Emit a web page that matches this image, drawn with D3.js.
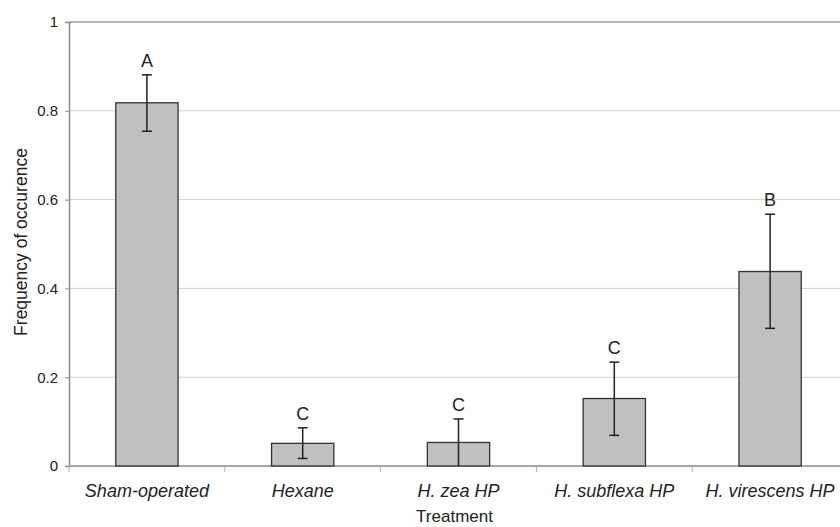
<!DOCTYPE html>
<html>
<head>
<meta charset="utf-8">
<script src="https://cdn.jsdelivr.net/npm/d3@7"></script>
<style>
  body { margin: 0; background: #fff; }
  svg { display: block; font-family: "Liberation Sans", Arial, sans-serif; }
</style>
</head>
<body>
<div class="chart"></div>
<script>
const treatments = ['Sham-operated', 'Hexane', 'H. zea HP', 'H. subflexa HP', 'H. virescens HP'];
const frequency = [0.818, 0.051, 0.053, 0.152, 0.438];
const errUpper = [0.881, 0.086, 0.106, 0.234, 0.567];
const errLower = [0.754, 0.017, 0, 0.069, 0.310];
const letters = ['A', 'C', 'C', 'C', 'B'];
const yTicks = [0, 0.2, 0.4, 0.6, 0.8, 1];

const outerWidth = 840;
const outerHeight = 527;
const margin = {top: 22, left: 69, bottom: 61};
const plotRight = 848; // plot runs a little past the picture edge
const height = outerHeight - margin.top - margin.bottom;

const svg = d3.select('.chart').append('svg')
    .attr('width', outerWidth)
    .attr('height', outerHeight);

// Scales
const x = d3.scaleBand().domain(treatments).range([margin.left, plotRight]).padding(0);
const y = d3.scaleLinear().domain([0, 1]).range([margin.top + height, margin.top]);
const barW = x.bandwidth() * 0.4;

// Gridlines
svg.append('g')
    .selectAll('line')
    .data(yTicks.filter(d => d > 0 && d < 1))
    .join('line')
    .attr('x1', margin.left).attr('x2', plotRight)
    .attr('y1', d => y(d)).attr('y2', d => y(d))
    .attr('stroke', '#d0d0d0')
    .attr('stroke-width', 1);

// top border
svg.append('line')
    .attr('x1', margin.left).attr('x2', plotRight)
    .attr('y1', y(1)).attr('y2', y(1))
    .attr('stroke', '#9a9a9a')
    .attr('stroke-width', 1.5);

// Y axis
const yAxis = d3.axisLeft(y).tickValues(yTicks).tickSize(4).tickPadding(7)
    .tickFormat(d => d === 0 || d === 1 ? String(d) : d3.format('.1f')(d));
const gy = svg.append('g')
    .attr('transform', `translate(${margin.left},0)`)
    .call(yAxis);
gy.select('.domain').attr('stroke', '#8a8a8a').attr('stroke-width', 1.5);
gy.selectAll('.tick line').attr('stroke', '#8a8a8a');
gy.selectAll('.tick text')
    .attr('fill', '#222')
    .style('font-size', '15px')
    .style('font-family', '"Liberation Sans", Arial, sans-serif');

// X axis: ticks sit at band boundaries
const xAxisG = svg.append('g');
xAxisG.append('line')
    .attr('x1', margin.left).attr('x2', plotRight)
    .attr('y1', y(0)).attr('y2', y(0))
    .attr('stroke', '#8a8a8a')
    .attr('stroke-width', 1.5);
xAxisG.selectAll('line.xtick')
    .data(treatments)
    .join('line')
    .attr('class', 'xtick')
    .attr('x1', d => x(d)).attr('x2', d => x(d))
    .attr('y1', y(0)).attr('y2', y(0) + 6)
    .attr('stroke', '#b0b0b0');
xAxisG.selectAll('text')
    .data(treatments)
    .join('text')
    .attr('x', d => x(d) + x.bandwidth() / 2)
    .attr('y', y(0) + 31)
    .attr('text-anchor', 'middle')
    .attr('fill', '#222')
    .style('font-size', '18px')
    .style('font-style', 'italic')
    .text(d => d);

// Bars
svg.append('g')
    .selectAll('rect')
    .data(treatments)
    .join('rect')
    .attr('x', d => x(d) + (x.bandwidth() - barW) / 2)
    .attr('width', barW)
    .attr('y', (d, i) => y(frequency[i]))
    .attr('height', (d, i) => y(0) - y(frequency[i]))
    .attr('fill', '#c0c0c0')
    .attr('stroke', '#333')
    .attr('stroke-width', 1.3);

// Error bars
const errG = svg.append('g').attr('stroke', '#222').attr('stroke-width', 1.5);
treatments.forEach((t, i) => {
    const cx = x(t) + x.bandwidth() / 2;
    errG.append('line')
        .attr('x1', cx).attr('x2', cx)
        .attr('y1', y(errUpper[i])).attr('y2', y(errLower[i]));
    errG.append('line')
        .attr('x1', cx - 5).attr('x2', cx + 5)
        .attr('y1', y(errUpper[i])).attr('y2', y(errUpper[i]));
    if (errLower[i] > 0) {
        errG.append('line')
            .attr('x1', cx - 5).attr('x2', cx + 5)
            .attr('y1', y(errLower[i])).attr('y2', y(errLower[i]));
    }
});

// Letters
svg.append('g')
    .selectAll('text')
    .data(treatments)
    .join('text')
    .attr('x', d => x(d) + x.bandwidth() / 2)
    .attr('y', (d, i) => y(errUpper[i]) - 8)
    .attr('text-anchor', 'middle')
    .attr('fill', '#222')
    .style('font-size', '18px')
    .text((d, i) => letters[i]);

// Axis titles
svg.append('text')
    .attr('x', (margin.left + plotRight) / 2 - 4)
    .attr('y', 522)
    .attr('text-anchor', 'middle')
    .attr('fill', '#222')
    .style('font-size', '17px')
    .text('Treatment');

svg.append('text')
    .attr('transform', 'translate(27,242) rotate(-90)')
    .attr('text-anchor', 'middle')
    .attr('fill', '#222')
    .style('font-size', '17.5px')
    .text('Frequency of occurence');
</script>
</body>
</html>
